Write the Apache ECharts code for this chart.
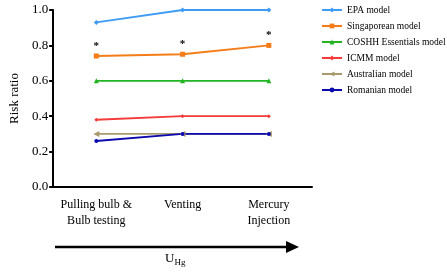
<!DOCTYPE html>
<html><head><meta charset="utf-8">
<script src="https://cdn.jsdelivr.net/npm/echarts@6/dist/echarts.min.js"></script>
<style>html,body{margin:0;padding:0;background:#fff}#c{width:447px;height:273px}</style>
</head><body><div id="c"></div>
<script>
const categories = ['Pulling bulb &\nBulb testing', 'Venting', 'Mercury\nInjection'];
const epa = [0.93, 1.0, 1.0];
const singaporean = [0.74, 0.75, 0.80];
const coshh = [0.6, 0.6, 0.6];
const icmm = [0.38, 0.40, 0.40];
const australian = [0.30, 0.30, 0.30];
const romanian = [0.26, 0.30, 0.30];
const yTicks = [0, 0.2, 0.4, 0.6, 0.8, 1.0];

const F = 'Liberation Serif';
function mk(name, data, color, symbol, size, extra) {
  return Object.assign({
    name, type: 'line', data, symbol, symbolSize: size,
    itemStyle: { color }, lineStyle: { color, width: 1.8 },
    animation: false
  }, extra || {});
}
const chart = echarts.init(document.getElementById('c'));
chart.setOption({
  animation: false,
  grid: { left: 45, right: 135, top: 10, bottom: 86 },
  legend: {
    orient: 'vertical', left: 316, top: 0, itemGap: 6, itemWidth: 20, itemHeight: 6,
    textStyle: { fontFamily: F, fontSize: 9.5, color: '#000' },
    data: ['EPA model', 'Singaporean model', 'COSHH Essentials model', 'ICMM model', 'Australian model', 'Romanian model']
  },
  xAxis: {
    type: 'category', data: categories, boundaryGap: true,
    axisLine: { lineStyle: { color: '#000', width: 2 } },
    axisTick: { alignWithLabel: true, length: 5, lineStyle: { color: '#000', width: 2 } },
    axisLabel: { interval: 0, fontFamily: F, fontSize: 12, color: '#000', margin: 10, lineHeight: 16 }
  },
  yAxis: {
    type: 'value', min: 0, max: 1, interval: 0.2,
    name: 'Risk ratio', nameLocation: 'middle', nameGap: 30,
    nameTextStyle: { fontFamily: F, fontSize: 13, color: '#000' },
    axisLine: { show: true, lineStyle: { color: '#000', width: 2 } },
    axisTick: { show: true, length: 4, lineStyle: { color: '#000', width: 2 } },
    splitLine: { show: false },
    axisLabel: { fontFamily: F, fontSize: 13, color: '#000', margin: 5,
      formatter: v => yTicks.includes(+v.toFixed(1)) ? v.toFixed(1) : '' }
  },
  series: [
    mk('Australian model', australian, '#a89a6c', 'triangle', 6, { symbolRotate: 90 }),
    mk('EPA model', epa, '#3f9cf5', 'diamond', 5),
    mk('Singaporean model', singaporean, '#f57c17', 'rect', 5, {
      label: { show: true, formatter: '*', position: 'top', distance: 2,
        fontFamily: F, fontSize: 11, fontWeight: 'bold', color: '#000' }
    }),
    mk('COSHH Essentials model', coshh, '#22b422', 'triangle', 5),
    mk('ICMM model', icmm, '#f53a3a', 'diamond', 4),
    mk('Romanian model', romanian, '#0a0ab0', 'circle', 4)
  ],
  graphic: [
    { type: 'line', shape: { x1: 55, y1: 247, x2: 290, y2: 247 }, style: { stroke: '#000', lineWidth: 2.5 } },
    { type: 'polygon', shape: { points: [[286, 241], [299, 247], [286, 253]] }, style: { fill: '#000' } },
    { type: 'text', left: 165, top: 252, style: {
      text: '{a|U}{b|Hg}', fill: '#000',
      rich: { a: { fontFamily: F, fontSize: 13, fill: '#000' }, b: { fontFamily: F, fontSize: 9, fill: '#000', padding: [8, 0, 0, 0] } }
    } }
  ]
});
</script></body></html>
